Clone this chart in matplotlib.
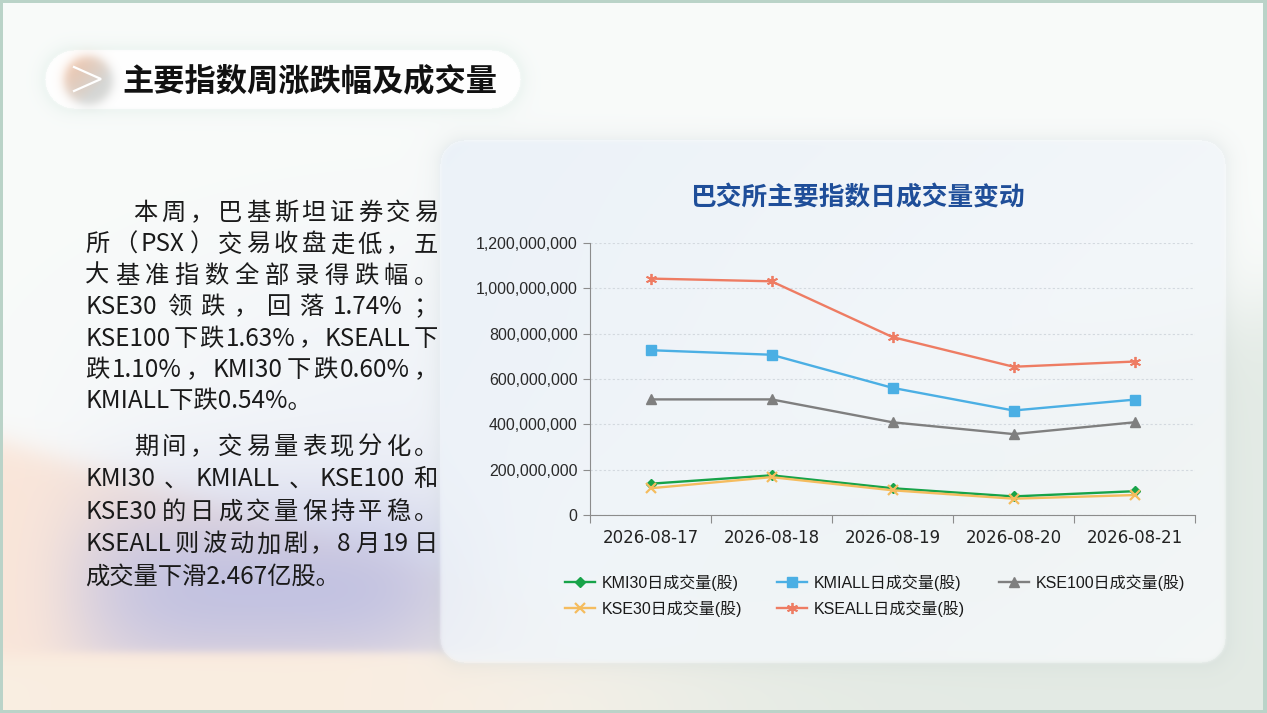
import re
import numpy as np
import matplotlib
matplotlib.use("Agg")
import matplotlib.pyplot as plt
from matplotlib.ticker import FixedLocator, FuncFormatter

W, H = 1267, 713
CJK = ["Noto Sans CJK SC", "DejaVu Sans"]
plt.rcParams["font.family"] = ["Liberation Sans", "Noto Sans CJK SC", "DejaVu Sans"]

# ---- data ----
dates = ["2026-08-17", "2026-08-18", "2026-08-19", "2026-08-20", "2026-08-21"]
kmi30 = [138e6, 175e6, 118e6, 82e6, 105e6]
kmiall = [727e6, 707e6, 561e6, 461e6, 509e6]
kse100 = [510e6, 510e6, 409e6, 357e6, 409e6]
kse30 = [118e6, 167e6, 109e6, 72e6, 88e6]
kseall = [1043e6, 1031e6, 785e6, 654e6, 677e6]
series_names = ["KMI30日成交量(股)", "KMIALL日成交量(股)", "KSE100日成交量(股)",
                "KSE30日成交量(股)", "KSEALL日成交量(股)"]
y_ticks = [0, 2e8, 4e8, 6e8, 8e8, 10e8, 12e8]

page_title = "主要指数周涨跌幅及成交量"
chart_title = "巴交所主要指数日成交量变动"
para1 = ["本周，巴基斯坦证券交易",
         "所（PSX）交易收盘走低，五",
         "大基准指数全部录得跌幅。",
         "KSE30领跌，回落1.74%；",
         "KSE100下跌1.63%，KSEALL下",
         "跌1.10%，KMI30下跌0.60%，",
         "KMIALL下跌0.54%。"]
para2 = ["期间，交易量表现分化。",
         "KMI30、KMIALL、KSE100和",
         "KSE30的日成交量保持平稳。",
         "KSEALL则波动加剧，8月19日",
         "成交量下滑2.467亿股。"]


def sigmoid(z):
    return 1.0 / (1.0 + np.exp(-z))


def rr_dist(xx, yy, x0, y0, x1, y1, r):
    cx, cy = (x0 + x1) / 2, (y0 + y1) / 2
    qx = np.abs(xx - cx) - ((x1 - x0) / 2 - r)
    qy = np.abs(yy - cy) - ((y1 - y0) / 2 - r)
    out = np.hypot(np.maximum(qx, 0), np.maximum(qy, 0))
    return out + np.minimum(np.maximum(qx, qy), 0) - r


def blend(img, color, alpha):
    c = np.array(color, dtype=float) / 255
    a = np.clip(alpha, 0, 1)[..., None]
    img[:] = img * (1 - a) + c * a


def make_background():
    yy, xx = np.mgrid[0:H, 0:W].astype(float)
    img = np.ones((H, W, 3)) * np.array([249, 251, 250]) / 255
    blend(img, (236, 240, 248), 0.6 * np.exp(-((xx - 420) / 320) ** 2 - ((yy - 400) / 170) ** 2))
    # peach wedge on the left and warm strip at the bottom
    blend(img, (250, 229, 216), 0.95 * sigmoid((yy - (440 + 0.30 * xx)) / 8) * sigmoid((480 - xx) / 70))
    blend(img, (250, 239, 226), 0.9 * sigmoid((yy - 656) / 5) * (1 - 0.6 * xx / W))
    # lavender blob
    lav = (np.exp(-((xx - 270) / 215) ** 4 - ((yy - 590) / 100) ** 2)
           * sigmoid((652 - yy) / 2.5) * sigmoid((xx - 45) / 25))
    blend(img, (188, 190, 226), 0.88 * lav)
    # grey-green wave on the right
    blend(img, (225, 233, 227), 0.9 * sigmoid((yy - (300 + 0.35 * (W - xx))) / 25) * sigmoid((xx - 650) / 90))

    # chart panel
    d = rr_dist(xx, yy, 440, 140, 1225, 662, 24)
    blend(img, (170, 185, 185), 0.16 * np.exp(-np.maximum(d, 0) / 9) * (d > 0))
    t = np.clip(0.55 * (xx - 440) / 785 + 0.45 * (yy - 140) / 522, 0, 1)[..., None]
    panel = (np.array([233, 240, 248]) * (1 - t) + np.array([247, 249, 250]) * t) / 255
    a = (0.82 * sigmoid(-d / 1.0))[..., None]
    img[:] = img * (1 - a) + panel * a

    # title pill
    d2 = rr_dist(xx, yy, 45, 50, 520, 108, 29)
    blend(img, (205, 228, 218), 0.35 * np.exp(-np.maximum(d2, 0) / 7) * (d2 > 0))
    blend(img, (255, 255, 255), sigmoid(-d2 / 1.0))

    # round icon
    rad = np.hypot(xx - 88, yy - 80)
    s = np.clip(((xx - 62) + (yy - 54)) / 70, 0, 1)[..., None]
    icon = (np.array([244, 190, 158]) * (1 - s) + np.array([212, 213, 211]) * s) / 255
    ai = sigmoid((24 - rad) / 3.0)[..., None]
    img[:] = img * (1 - ai) + icon * ai

    # thin frame
    frame = np.array([186, 211, 200]) / 255
    img[:3, :] = frame
    img[-3:, :] = frame
    img[:, :3] = frame
    img[:, -4:] = frame
    return img


def put_line(ax, renderer, text, x0, x1, y, justify, size):
    if not justify:
        ax.text(x0, y, text, fontsize=size, family=CJK, va="center", ha="left", color="#1a1a1a")
        return
    tokens = re.findall(r"[A-Za-z0-9.%]+|\S", text)
    em = size * 100 / 72
    objs, widths = [], []
    for tok in tokens:
        o = ax.text(x0, y, tok, fontsize=size, family=CJK, va="center", ha="left", color="#1a1a1a")
        if len(tok) == 1 and ord(tok) > 0x2000:
            w = em
        else:
            w = o.get_window_extent(renderer).width + 0.08 * em
        objs.append(o)
        widths.append(w)
    gap = (x1 - x0 - sum(widths)) / max(len(tokens) - 1, 1)
    x = x0
    for o, w in zip(objs, widths):
        o.set_x(x)
        x += w + gap


fig = plt.figure(figsize=(W / 100, H / 100), dpi=100)
renderer = fig.canvas.get_renderer()

bg = fig.add_axes([0, 0, 1, 1])
bg.imshow(make_background(), extent=(0, W, H, 0), interpolation="bilinear")
bg.set_xlim(0, W)
bg.set_ylim(H, 0)
bg.axis("off")

bg.plot([74, 101, 74], [67, 79, 91], color="white", lw=1.6, solid_joinstyle="miter")
bg.text(122, 81, page_title, fontsize=22.5, weight="bold", family=CJK, va="center",
        ha="left", color="#111111")
bg.text(857, 198, chart_title, fontsize=18.5, weight="bold", family=CJK, va="center",
        ha="center", color="#1F4E99")

body_size = 17.5
left, right = 85, 438
indent = left + 2 * body_size * 100 / 72
for i, line in enumerate(para1):
    put_line(bg, renderer, line, indent if i == 0 else left, right, 213 + i * 31.4,
             i < len(para1) - 1, body_size)
for i, line in enumerate(para2):
    put_line(bg, renderer, line, indent if i == 0 else left, right, 447 + i * 32.4,
             i < len(para2) - 1, body_size)

# ---- chart ----
ax = fig.add_axes([590 / W, 1 - 515 / H, 605 / W, 272 / H])
ax.set_facecolor("none")
x = np.arange(len(dates))
styles = [
    (kmi30, "#17A349", "D", 5.5, 1.0),
    (kmiall, "#4BAFE4", "s", 6.5, 1.0),
    (kse100, "#7F7F7F", "^", 7.5, 1.0),
    (kse30, "#F5BC5E", "x", 6.5, 1.6),
    (kseall, "#EE7C63", (6, 2, 0), 8, 1.3),
]
lines = []
for (vals, col, mk, ms, mew), name in zip(styles, series_names):
    ln, = ax.plot(x, vals, color=col, lw=1.7, marker=mk, markersize=ms,
                  markeredgewidth=mew, markeredgecolor=col, markerfacecolor=col, label=name)
    lines.append(ln)

ax.set_xlim(-0.5, len(dates) - 0.5)
ax.set_ylim(0, 1.2e9)
ax.set_yticks(y_ticks)
ax.yaxis.set_major_formatter(FuncFormatter(lambda v, p: f"{v:,.0f}"))
ax.xaxis.set_major_locator(FixedLocator(np.arange(-0.5, len(dates), 1)))
ax.xaxis.set_minor_locator(FixedLocator(x))
ax.xaxis.set_minor_formatter(FuncFormatter(lambda v, p: dates[int(round(v))]))
ax.tick_params(axis="x", which="major", length=6, color="#8C8C8C", labelbottom=False)
ax.tick_params(axis="x", which="minor", length=0, pad=10, labelsize=12, labelcolor="#222222")
ax.tick_params(axis="y", length=5, color="#8C8C8C", pad=4, labelsize=11.5, labelcolor="#2a2a2a")
for lab in ax.xaxis.get_minorticklabels():
    lab.set_family("DejaVu Sans")
for side in ["top", "right"]:
    ax.spines[side].set_visible(False)
for side in ["left", "bottom"]:
    ax.spines[side].set_color("#8C8C8C")
ax.yaxis.grid(True, color="#D3D9DF", ls=(0, (2, 2)), lw=0.8)
ax.set_axisbelow(True)

order = [0, 3, 1, 4, 2]
leg = fig.legend([lines[i] for i in order], [series_names[i] for i in order],
                 loc="upper left", bbox_to_anchor=(565 / W, 1 - 574 / H), ncol=3,
                 frameon=False, fontsize=11.5, handlelength=1.9, handletextpad=0.4,
                 columnspacing=2.15, labelspacing=0.62, borderpad=0, borderaxespad=0)
for t in leg.get_texts():
    t.set_color("#1a1a1a")

fig.savefig("out.png", dpi=100)
